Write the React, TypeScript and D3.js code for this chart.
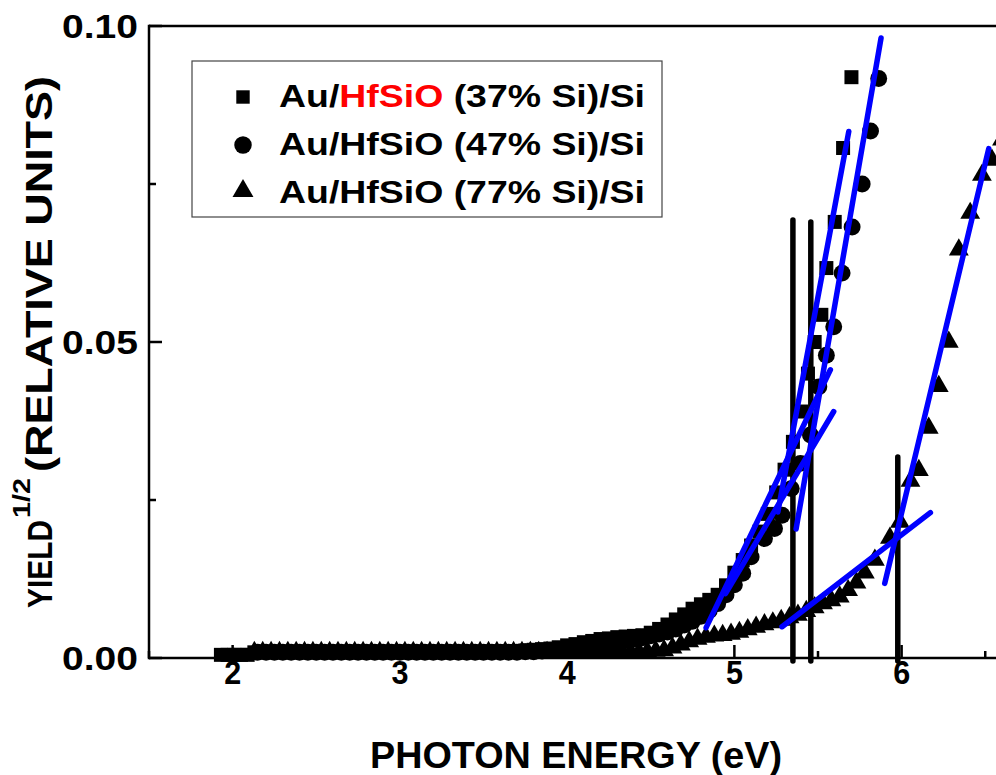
import React from "react";
import * as d3 from "d3";

// ---------- DATA ----------
const sq37E = [1.93,1.97,2.01,2.05,2.09,2.13,2.17,2.21,2.25,2.3,2.35,2.4,2.45,2.5,2.55,2.6,2.65,2.7,2.75,2.8,2.85,2.9,2.95,3.0,3.05,3.1,3.15,3.2,3.25,3.3,3.35,3.4,3.45,3.5,3.55,3.6,3.65,3.7,3.75,3.8,3.85,3.9,3.95,4.0,4.05,4.1,4.15,4.2,4.25,4.3,4.35,4.4,4.45,4.5,4.55,4.6,4.65,4.7,4.75,4.8,4.85,4.9,4.95,5.0,5.05,5.1,5.15,5.2,5.25,5.3,5.35,5.4,5.44,5.48,5.52,5.55,5.6,5.65,5.7];
const sq37V = [0.0005,0.0005,0.0005,0.0005,0.0005,0.0009,0.0009,0.0009,0.0009,0.0009,0.0009,0.0009,0.0009,0.0009,0.0009,0.0009,0.0009,0.0009,0.0009,0.0009,0.0009,0.0009,0.0009,0.0009,0.0009,0.0009,0.0009,0.0009,0.0009,0.0009,0.0009,0.0009,0.0009,0.0009,0.001,0.001,0.001,0.0011,0.0012,0.0013,0.0014,0.0015,0.0017,0.002,0.0022,0.0025,0.0027,0.003,0.0031,0.0033,0.0034,0.0035,0.0036,0.004,0.0046,0.0053,0.0061,0.0069,0.0078,0.0085,0.0092,0.01,0.0115,0.0135,0.0155,0.0178,0.02,0.0228,0.0262,0.0298,0.0342,0.039,0.045,0.05,0.0543,0.0617,0.069,0.0807,0.0919];

const ci47E = [2.15,2.2,2.25,2.3,2.35,2.4,2.45,2.5,2.55,2.6,2.65,2.7,2.75,2.8,2.85,2.9,2.95,3.0,3.05,3.1,3.15,3.2,3.25,3.3,3.35,3.4,3.45,3.5,3.55,3.6,3.65,3.7,3.75,3.8,3.85,3.9,3.95,4.0,4.05,4.1,4.15,4.2,4.25,4.3,4.35,4.4,4.45,4.5,4.55,4.6,4.65,4.7,4.75,4.8,4.85,4.9,4.95,5.0,5.05,5.1,5.18,5.24,5.285,5.34,5.395,5.455,5.505,5.55,5.594,5.644,5.704,5.764,5.814,5.863];
const ci47V = [0.0009,0.0009,0.0009,0.0009,0.0009,0.0009,0.0009,0.0009,0.0009,0.0009,0.0009,0.0009,0.0009,0.0009,0.0009,0.0009,0.0009,0.0009,0.0009,0.0009,0.0009,0.0009,0.0009,0.0009,0.0009,0.0009,0.0009,0.0009,0.0009,0.0009,0.0009,0.0009,0.001,0.001,0.0011,0.0012,0.0013,0.0015,0.0016,0.0018,0.002,0.0022,0.0024,0.0026,0.0028,0.003,0.0032,0.0035,0.0038,0.0041,0.0046,0.0052,0.0058,0.0066,0.0075,0.0086,0.01,0.0116,0.0134,0.016,0.0189,0.0205,0.0226,0.0268,0.0308,0.0353,0.0429,0.0479,0.0524,0.0609,0.0682,0.075,0.0834,0.0917];

const tr77E = [2.13,2.18,2.23,2.28,2.33,2.38,2.43,2.48,2.53,2.58,2.63,2.68,2.73,2.78,2.83,2.88,2.93,2.98,3.03,3.08,3.13,3.18,3.23,3.28,3.33,3.38,3.43,3.48,3.53,3.58,3.63,3.68,3.73,3.78,3.83,3.88,3.93,3.98,4.03,4.08,4.13,4.18,4.23,4.28,4.33,4.38,4.43,4.48,4.53,4.58,4.63,4.68,4.73,4.78,4.83,4.88,4.93,4.98,5.03,5.08,5.13,5.18,5.23,5.28,5.33,5.38,5.43,5.48,5.53,5.58,5.63,5.68,5.73,5.78,5.84,5.93,5.99,6.053,6.103,6.162,6.222,6.282,6.342,6.41,6.48,6.54,6.6];
const tr77V = [0.0009,0.0009,0.0009,0.0009,0.0009,0.0009,0.0009,0.0009,0.0009,0.0009,0.0009,0.0009,0.0009,0.0009,0.0009,0.0009,0.0009,0.0009,0.0009,0.0009,0.0009,0.0009,0.0009,0.0009,0.0009,0.0009,0.0009,0.0009,0.0009,0.0009,0.0009,0.0009,0.0009,0.0009,0.0009,0.0009,0.0009,0.0009,0.0009,0.0009,0.0009,0.0009,0.0009,0.0009,0.0009,0.0009,0.0009,0.001,0.0011,0.0012,0.0016,0.0021,0.0026,0.003,0.0033,0.0035,0.0036,0.0038,0.0041,0.0045,0.0049,0.0053,0.0056,0.006,0.0064,0.0068,0.0074,0.008,0.0086,0.0091,0.0097,0.0107,0.0119,0.0135,0.0155,0.019,0.0215,0.028,0.0297,0.0364,0.043,0.05,0.0646,0.0704,0.0764,0.0788,0.082];

// fit lines: [e1, v1, e2, v2]
const fitLines = [
  [4.831, 0.0048, 5.574, 0.0456],
  [4.947, 0.0102, 5.594, 0.039],
  [5.26, 0.0231, 5.684, 0.0833],
  [5.369, 0.0204, 5.877, 0.0981],
  [5.285, 0.00495, 6.172, 0.023],
  [5.899, 0.0118, 6.521, 0.0806],
];
// threshold markers: [e, top value]
const thresholds = [
  [5.35, 0.0693],
  [5.457, 0.069],
  [5.977, 0.0318],
];

const xMajor = [2, 3, 4, 5, 6, 7];
const xMinor = [1.5, 2.5, 3.5, 4.5, 5.5, 6.5];
const yMajor = [0, 0.05, 0.1];
const yMinor = [0.025, 0.075];
const yTickLabels = ["0.00", "0.05", "0.10"];

const FONT = "'Liberation Sans', Arial, Helvetica, sans-serif";

export default function App() {
  const x = d3.scaleLinear().domain([1.5, 7.0]).range([149, 149 + 5.5 * 167.25]);
  const y = d3.scaleLinear().domain([0, 0.1]).range([658, 26]);
  const W = 996, H = 775;

  const sqPath = d3.symbol(d3.symbolSquare, 196)();
  const ciPath = d3.symbol(d3.symbolCircle, 225)();
  const trPath = d3.symbol(d3.symbolTriangle, 170)();

  const xL = x(1.5), xR = x(7.0), yB = y(0), yT = y(0.1);

  return (
    <svg width={W} height={H} style={{ display: "block", position: "absolute", left: 0, top: 0, background: "#fff" }}>
      <rect x={0} y={0} width={W} height={H} fill="#fff" />
      {/* data */}
      <g fill="#000">
        {tr77E.map((e, i) => (
          <path key={"t" + i} d={trPath} transform={`translate(${x(e)},${y(tr77V[i])})`} />
        ))}
        {ci47E.map((e, i) => (
          <path key={"c" + i} d={ciPath} transform={`translate(${x(e)},${y(ci47V[i])})`} />
        ))}
        {sq37E.map((e, i) => (
          <path key={"s" + i} d={sqPath} transform={`translate(${x(e)},${y(sq37V[i])})`} />
        ))}
      </g>
      {/* threshold lines */}
      {thresholds.map((t, i) => (
        <line key={"th" + i} x1={x(t[0])} x2={x(t[0])} y1={y(t[1])} y2={yB + 3} stroke="#000" strokeWidth={5.5} strokeLinecap="round" />
      ))}
      {/* axes */}
      <g stroke="#000" strokeWidth={2.5} fill="none">
        <line x1={xL} x2={xR} y1={yB} y2={yB} />
        <line x1={xL} x2={xR} y1={yT} y2={yT} />
        <line x1={xL} x2={xL} y1={yT - 1.2} y2={yB + 1.2} />
        {xMajor.map((v) => (
          <line key={"xm" + v} x1={x(v)} x2={x(v)} y1={yB} y2={yB - 13} />
        ))}
        {xMinor.map((v) => (
          <line key={"xn" + v} x1={x(v)} x2={x(v)} y1={yB} y2={yB - 7} />
        ))}
        {yMajor.map((v) => (
          <line key={"ym" + v} x1={xL} x2={xL + 13} y1={y(v)} y2={y(v)} />
        ))}
        {yMinor.map((v) => (
          <line key={"yn" + v} x1={xL} x2={xL + 7} y1={y(v)} y2={y(v)} />
        ))}
      </g>
      {/* fit lines */}
      {fitLines.map((l, i) => (
        <line key={"f" + i} x1={x(l[0])} y1={y(l[1])} x2={x(l[2])} y2={y(l[3])} stroke="#0000ff" strokeWidth={5.5} strokeLinecap="round" />
      ))}
      {/* tick labels */}
      <g fontFamily={FONT} fontWeight="bold" fontSize={34} fill="#000">
        {yMajor.map((v, i) => (
          <text key={"yl" + v} x={138} y={y(v)} dy="0.36em" textAnchor="end" textLength={76} lengthAdjust="spacingAndGlyphs">
            {yTickLabels[i]}
          </text>
        ))}
        {xMajor.filter((v) => v <= 6).map((v) => (
          <text key={"xl" + v} x={x(v)} y={684} textAnchor="middle" textLength={17} lengthAdjust="spacingAndGlyphs">
            {String(v)}
          </text>
        ))}
        <text x={576} y={768} fontSize={36} textAnchor="middle" textLength={412} lengthAdjust="spacingAndGlyphs">PHOTON ENERGY (eV)</text>
        <text transform="translate(52,608) rotate(-90)" fontSize={35} textLength={88} lengthAdjust="spacingAndGlyphs">YIELD</text>
        <text transform="translate(30,518) rotate(-90)" fontSize={24} textLength={40} lengthAdjust="spacingAndGlyphs">1/2</text>
        <text transform="translate(52,472) rotate(-90)" fontSize={36} textLength={396} lengthAdjust="spacingAndGlyphs">(RELATIVE UNITS)</text>
      </g>
      {/* legend */}
      <rect x={192} y={61} width={470} height={156} fill="#fff" stroke="#444" strokeWidth={1.2} />
      <path d={d3.symbol(d3.symbolSquare, 180)()} transform="translate(243,97)" fill="#000" />
      <path d={d3.symbol(d3.symbolCircle, 240)()} transform="translate(243,145)" fill="#000" />
      <path d={d3.symbol(d3.symbolTriangle, 190)()} transform="translate(243,191)" fill="#000" />
      <g fontFamily={FONT} fontWeight="bold" fontSize={31} fill="#000">
        <text x={279} y={107} textLength={366} lengthAdjust="spacingAndGlyphs">
          Au/<tspan fill="#ff0000">HfSiO</tspan> (37% Si)/Si
        </text>
        <text x={279} y={155} textLength={366} lengthAdjust="spacingAndGlyphs">Au/HfSiO (47% Si)/Si</text>
        <text x={279} y={203} textLength={366} lengthAdjust="spacingAndGlyphs">Au/HfSiO (77% Si)/Si</text>
      </g>
    </svg>
  );
}
